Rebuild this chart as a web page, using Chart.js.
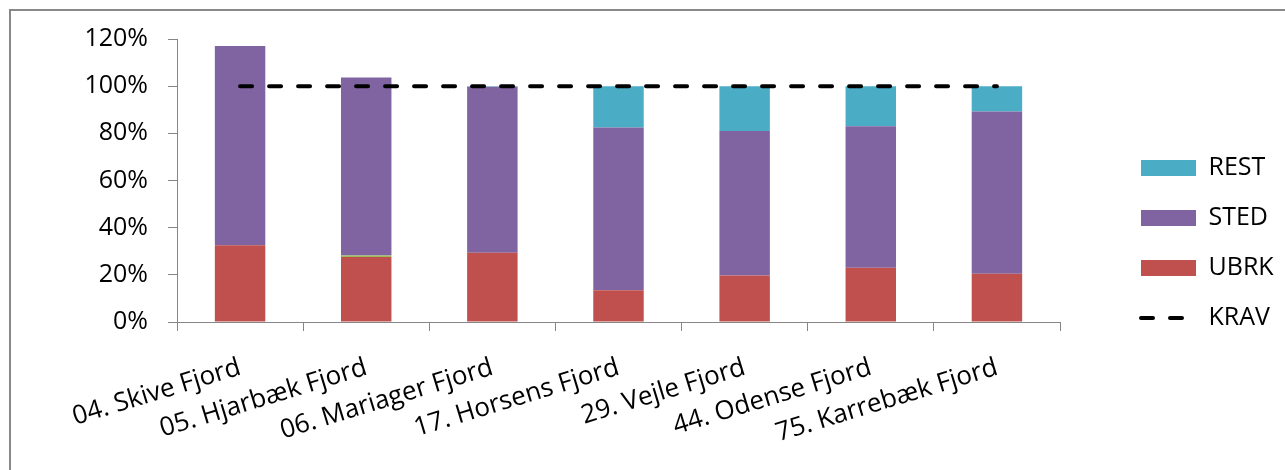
<!DOCTYPE html>
<html>
<head>
<meta charset="utf-8">
<script src="https://cdn.jsdelivr.net/npm/chart.js@4/dist/chart.umd.min.js"></script>
<style>
  html, body { margin: 0; padding: 0; background: #fff; overflow: hidden; }
  #wrap { position: relative; width: 1285px; height: 470px; }
  #ramme { position: absolute; left: 9px; top: 9px; width: 1300px; height: 500px;
           border-left: 2px solid #898989; border-top: 2px solid #898989; }
  #graf { position: absolute; left: 0; top: 0; }
</style>
</head>
<body>
<div id="wrap">
  <div id="ramme"></div>
  <canvas id="graf" width="1285" height="470"></canvas>
</div>
<script>
// Fjorde og andele (%)
let fjorde = ['04. Skive Fjord', '05. Hjarbæk Fjord', '06. Mariager Fjord', '17. Horsens Fjord',
              '29. Vejle Fjord', '44. Odense Fjord', '75. Karrebæk Fjord'];
let ubrk  = [32.5, 27.6, 29.4, 13.5, 19.7, 23.0, 20.5];
let andet = [0, 0.6, 0, 0, 0, 0, 0];
let sted  = [84.5, 75.5, 70.3, 69.0, 61.3, 60.0, 68.8];
let rest  = [0, 0, 0.3, 17.5, 19.0, 17.0, 10.7];
let krav  = [100, 100, 100, 100, 100, 100, 100];
let yTicks = [0, 20, 40, 60, 80, 100, 120];

let skrift = "'Open Sans', sans-serif";
let graa = '#868686';
let kravStreg = [12, 17];
// rækkefølge i forklaringen: REST, STED, UBRK, KRAV
let legendOrden = { 'REST': 0, 'STED': 1, 'UBRK': 2, 'KRAV': 3 };

// flytter forklaringen ud til højre som i Excel
const legendPlads = {
    id: 'legendPlads',
    afterInit(chart) {
        const l = chart.legend;
        const orig = l.fit.bind(l);
        l.fit = function () { orig(); this.width = 1285 - 1060; };
    },
    afterLayout(chart) {
        const l = chart.legend;
        l.left = 1116;
        l.right = 1285;
    }
};

new Chart(document.getElementById('graf'), {
    type: 'bar',
    data: {
        labels: fjorde,
        datasets: [
            { label: 'UBRK', data: ubrk, backgroundColor: '#C0504D', order: 1 },
            { label: '', data: andet, backgroundColor: '#9BBB59', order: 1 },
            { label: 'STED', data: sted, backgroundColor: '#8064A2', order: 1 },
            { label: 'REST', data: rest, backgroundColor: '#4BACC6', order: 1 },
            {
                type: 'line', label: 'KRAV', data: krav, order: 0,
                borderColor: '#000', borderWidth: 4, borderDash: kravStreg,
                borderCapStyle: 'round', pointRadius: 0, fill: false
            }
        ]
    },
    options: {
        responsive: false,
        animation: false,
        layout: { padding: { left: 57, top: 39, right: 0, bottom: 23 } },
        datasets: { bar: { barPercentage: 0.4, categoryPercentage: 1, borderWidth: 0 } },
        plugins: {
            tooltip: { enabled: false },
            legend: {
                position: 'right',
                labels: {
                    color: '#000',
                    font: { family: skrift, size: 25 },
                    boxWidth: 55,
                    boxHeight: 16,
                    padding: 25,
                    usePointStyle: true,
                    pointStyleWidth: 55,
                    filter: (item) => item.text !== '',
                    sort: (a, b) => legendOrden[a.text] - legendOrden[b.text],
                    generateLabels: (chart) => {
                        let items = Chart.defaults.plugins.legend.labels.generateLabels(chart);
                        items.forEach(it => {
                            if (it.text === 'KRAV') {
                                it.pointStyle = 'line';
                                it.lineDash = kravStreg;
                                it.lineCap = 'round';
                                it.lineWidth = 4;
                                it.strokeStyle = '#000';
                            } else {
                                it.pointStyle = 'rect';
                                it.lineWidth = 0;
                            }
                        });
                        return items;
                    }
                }
            }
        },
        scales: {
            x: {
                stacked: true,
                afterFit: (s) => { s.height = 125; },
                grid: { offset: true, drawOnChartArea: false, color: graa, tickLength: 9 },
                border: { color: graa, width: 1 },
                ticks: { color: '#000', font: { family: skrift, size: 26 }, minRotation: 17, maxRotation: 17, padding: 21 }
            },
            y: {
                stacked: true,
                min: 0, max: 120,
                afterFit: (s) => { s.width = 120; },
                afterBuildTicks: (s) => { s.ticks = yTicks.map(v => ({ value: v })); },
                grid: { drawOnChartArea: false, color: graa, tickLength: 9 },
                border: { color: graa, width: 1 },
                ticks: {
                    color: '#000', font: { family: skrift, size: 25 }, padding: 20,
                    callback: (v) => v + '%'
                }
            }
        }
    },
    plugins: [legendPlads]
});
</script>
</body>
</html>
